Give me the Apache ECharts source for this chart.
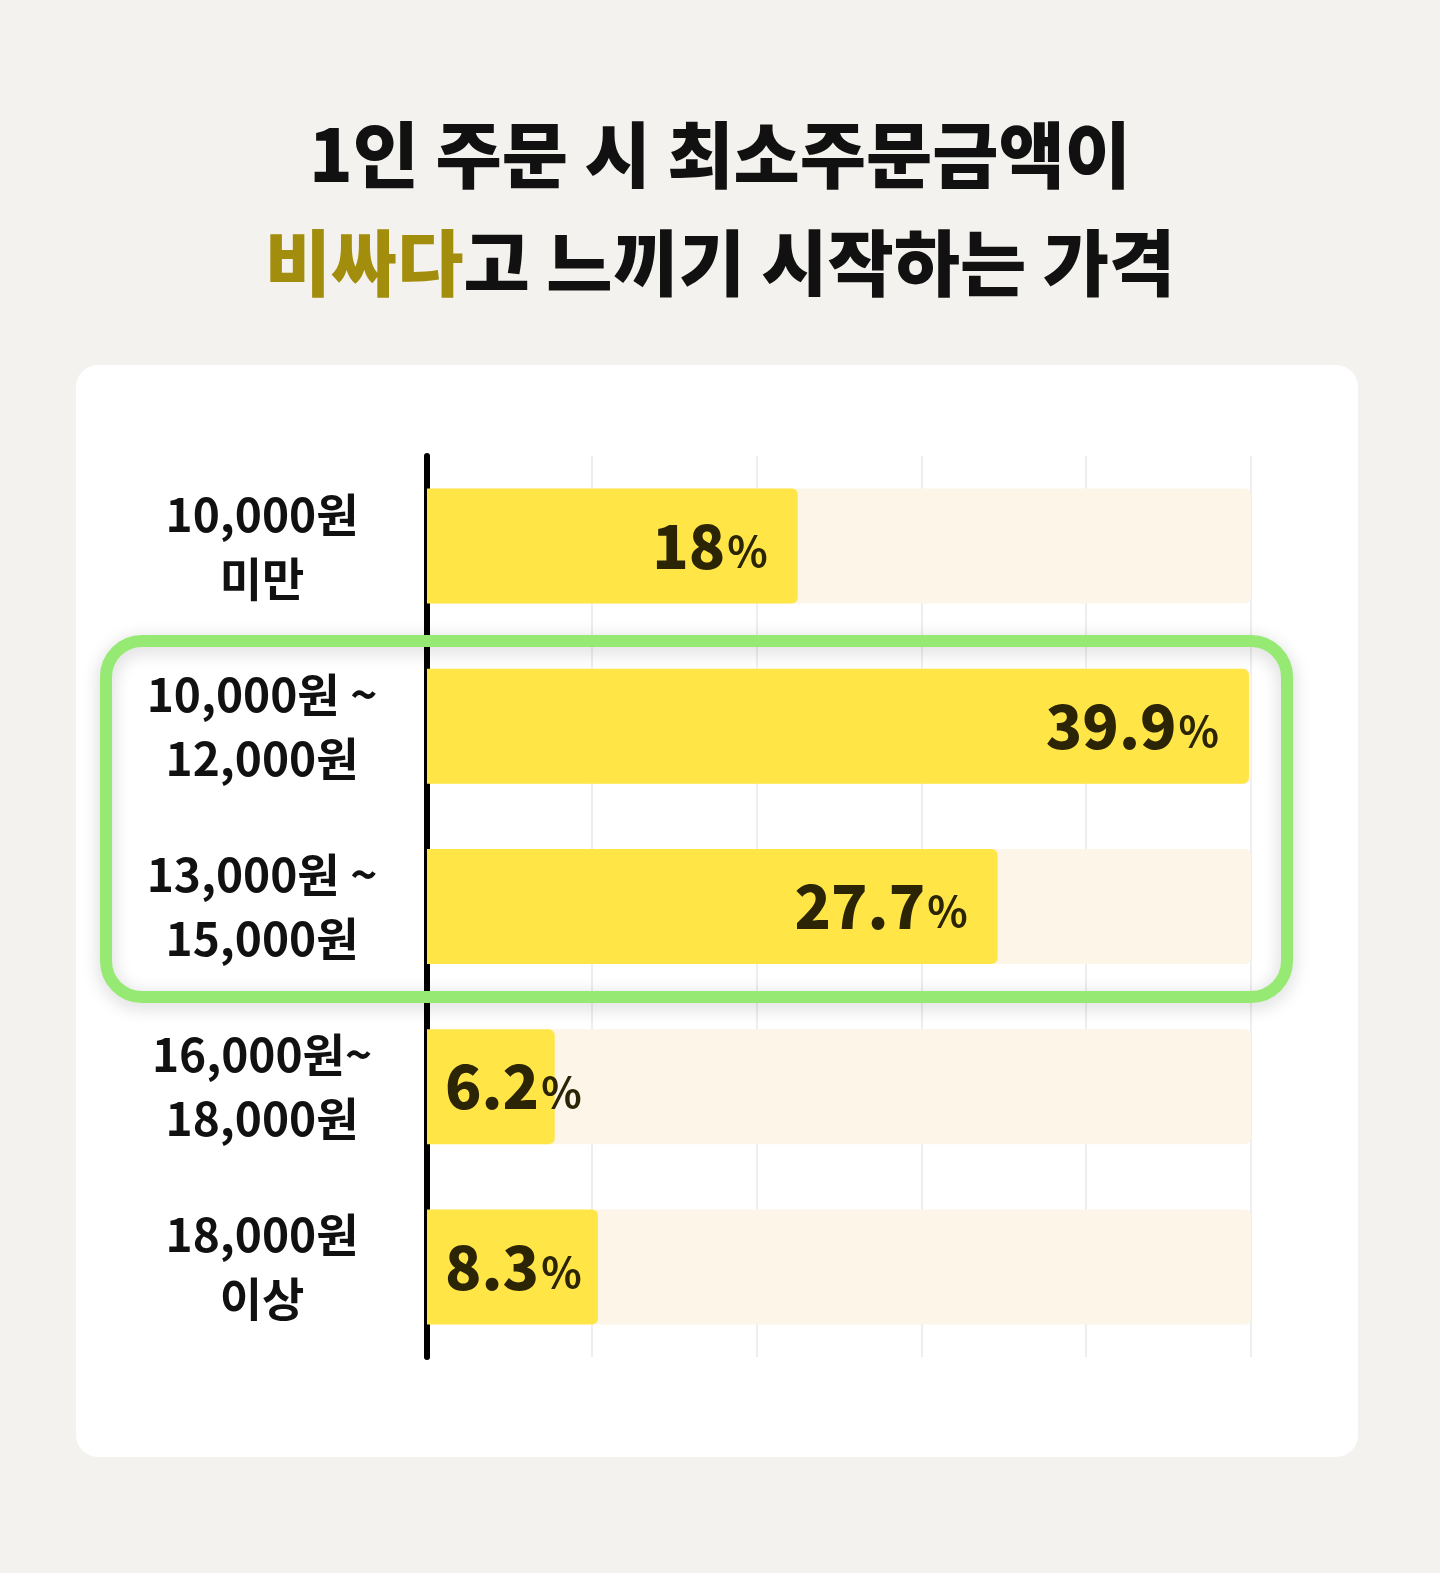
<!DOCTYPE html>
<html>
<head>
<meta charset="utf-8">
<script src="https://cdn.jsdelivr.net/npm/echarts@6/dist/echarts.min.js"></script>
<style>
  html, body { margin: 0; padding: 0; background: #f3f2ee; }
  #chart { width: 1440px; height: 1573px; }
</style>
</head>
<body>
<div id="chart"></div>
<script>
// 가격대 (위에서 아래로)
var categories = ['10,000원\n미만', '10,000원 ~\n12,000원', '13,000원 ~\n15,000원', '16,000원~\n18,000원', '18,000원\n이상'];
// 응답 비율 (%)
var values = [18, 39.9, 27.7, 6.2, 8.3];
var axisMax = 40;
var axisStep = 8;

var FONT = '"Noto Sans CJK KR", "Noto Sans", sans-serif';
var chart = echarts.init(document.getElementById('chart'));

// 막대 라벨: 짧은 막대는 왼쪽 안쪽, 나머지는 오른쪽 안쪽
var barData = values.map(function (v) {
  var small = v < 10;
  return {
    value: v,
    label: {
      position: small ? 'insideLeft' : 'insideRight',
      distance: small ? 18 : 30
    }
  };
});

var option = {
  backgroundColor: '#f3f2ee',
  title: {
    text: '1인 주문 시 최소주문금액이\n{hl|비싸다}고 느끼기 시작하는 가격',
    left: 'center',
    top: 96,
    textStyle: {
      fontFamily: FONT,
      fontSize: 72,
      fontWeight: 900,
      color: '#111111',
      lineHeight: 108,
      rich: {
        hl: { fontFamily: FONT, fontSize: 72, fontWeight: 900, color: '#a38d0c', lineHeight: 108 }
      }
    }
  },
  graphic: [
    // 흰색 카드
    {
      type: 'rect', z: -10, silent: true,
      shape: { x: 76, y: 365, width: 1282, height: 1092, r: 22 },
      style: { fill: '#ffffff' }
    },
    // 강조 박스
    {
      type: 'rect', z: 100, silent: true,
      shape: { x: 106, y: 641, width: 1181, height: 356, r: 36 },
      style: {
        fill: 'none', stroke: '#96ea74', lineWidth: 12,
        shadowBlur: 18, shadowColor: 'rgba(0,0,0,0.18)', shadowOffsetY: 4
      }
    }
  ],
  grid: { left: 427, right: 189, top: 456, bottom: 216, containLabel: false },
  xAxis: {
    type: 'value',
    min: 0,
    max: axisMax,
    interval: axisStep,
    axisLine: { show: false },
    axisTick: { show: false },
    axisLabel: { show: false },
    splitLine: { show: true, lineStyle: { color: '#eeeeee', width: 2 } }
  },
  yAxis: {
    type: 'category',
    inverse: true,
    data: categories,
    axisTick: { show: false },
    axisLine: { show: true, lineStyle: { color: '#000000', width: 6 } },
    axisLabel: {
      margin: 165,
      align: 'center',
      fontFamily: FONT,
      fontSize: 46,
      fontWeight: 'bold',
      color: '#111111',
      lineHeight: 64
    }
  },
  series: [{
    type: 'bar',
    data: barData,
    barWidth: 115,
    showBackground: true,
    backgroundStyle: { color: '#fcf5e8', borderRadius: 6 },
    itemStyle: { color: '#ffe646', borderRadius: [0, 6, 6, 0] },
    label: {
      show: true,
      formatter: function (p) { return '{v|' + p.value + '}{p|%}'; },
      rich: {
        v: { fontFamily: FONT, fontSize: 60, fontWeight: 900, color: '#2b2505' },
        p: { fontFamily: FONT, fontSize: 42, fontWeight: 'bold', color: '#2b2505', padding: [10, 0, 0, 2] }
      }
    }
  }]
};

chart.setOption(option);
</script>
</body>
</html>
